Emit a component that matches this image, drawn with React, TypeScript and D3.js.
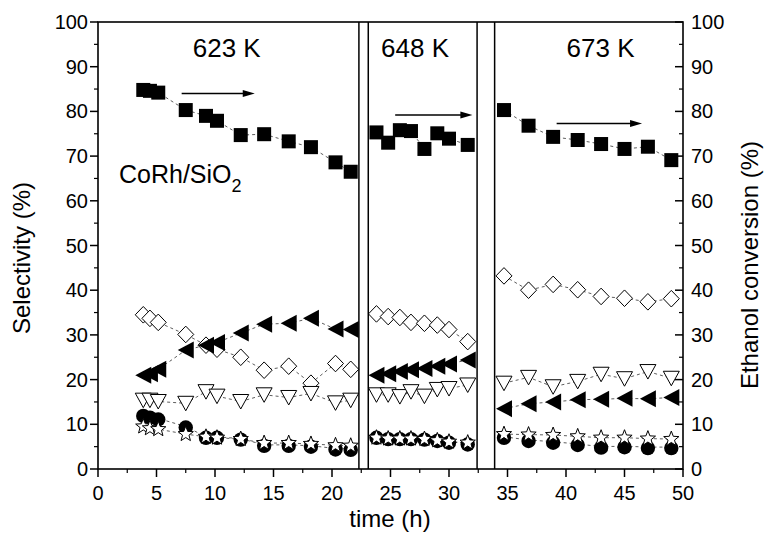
import React from 'react';
import * as d3 from 'd3';

// ---- data ----
const t623 = [3.87, 4.44, 5.15, 7.5, 9.23, 10.17, 12.2, 14.2, 16.3, 18.2, 20.3, 21.6];
const t648 = [23.8, 24.8, 25.8, 26.75, 27.9, 29.0, 30.0, 31.6];
const t673 = [34.7, 36.8, 38.9, 41.0, 43.0, 45.0, 47.0, 49.0];

// ethanol conversion (filled squares, right axis)
const conv623 = [84.8, 84.6, 84.2, 80.3, 79.0, 77.9, 74.7, 74.9, 73.3, 72.0, 68.6, 66.5];
const conv648 = [75.3, 73.0, 75.8, 75.6, 71.6, 75.1, 73.9, 72.5];
const conv673 = [80.3, 76.8, 74.3, 73.6, 72.7, 71.6, 72.1, 69.1];

// open diamonds
const dia623 = [34.5, 33.7, 32.8, 30.1, 27.7, 26.8, 25.0, 22.1, 23.0, 19.2, 23.6, 22.3];
const dia648 = [34.7, 34.1, 33.9, 32.8, 32.6, 32.2, 31.2, 28.5];
const dia673 = [43.2, 40.0, 41.3, 40.1, 38.6, 38.2, 37.4, 38.1];

// filled left triangles
const ltri623 = [21.0, 21.3, 22.3, 26.6, 27.7, 28.3, 30.4, 32.4, 32.6, 33.7, 31.3, 31.2];
const ltri648 = [21.0, 21.3, 21.8, 22.2, 22.5, 23.0, 23.5, 24.4];
const ltri673 = [13.5, 14.6, 15.0, 15.5, 15.6, 15.8, 15.7, 16.0];

// open down triangles
const dtri623 = [15.4, 15.4, 15.1, 14.7, 17.3, 16.3, 15.1, 16.6, 16.0, 16.9, 14.8, 15.4];
const dtri648 = [16.6, 16.6, 16.2, 17.3, 16.3, 17.8, 18.0, 18.8];
const dtri673 = [19.2, 20.5, 18.4, 19.6, 21.2, 20.2, 21.8, 20.3];

// filled circles
const circ623 = [12.1, 11.7, 11.3, 9.5, 7.2, 7.2, 6.8, 5.4, 5.4, 5.2, 4.6, 4.5];
const circ648 = [7.2, 6.9, 6.9, 6.9, 6.8, 6.5, 6.1, 5.7];
const circ673 = [7.2, 6.5, 6.1, 5.6, 5.0, 5.1, 4.9, 4.9];

// open stars
const star623 = [9.5, 9.1, 8.9, 7.8, 7.2, 7.0, 6.7, 5.8, 5.8, 5.6, 5.3, 5.2];
const star648 = [7.0, 6.8, 6.8, 6.8, 6.7, 6.4, 6.1, 5.9];
const star673 = [7.8, 7.7, 7.6, 7.3, 7.0, 7.0, 6.8, 6.7];

const xTicks = [0, 5, 10, 15, 20, 25, 30, 35, 40, 45, 50];
const yTicks = [0, 10, 20, 30, 40, 50, 60, 70, 80, 90, 100];
const dividers = [22.3, 23.1, 32.4, 33.9];
const tempLabels = ['623 K', '648 K', '673 K'];
const tempLabelX = [11.0, 27.1, 42.95];
const arrowStart = [7.15, 25.4, 39.2];
const arrowEnd = [13.4, 32.0, 46.5];
const arrowY = [84.0, 79.2, 77.3];

const times = [t623, t648, t673];
const series = [
  { shape: 'square', segs: [conv623, conv648, conv673] },
  { shape: 'diamond', segs: [dia623, dia648, dia673] },
  { shape: 'dtri', segs: [dtri623, dtri648, dtri673] },
  { shape: 'ltri', segs: [ltri623, ltri648, ltri673] },
  { shape: 'circle', segs: [circ623, circ648, circ673] },
  { shape: 'star', segs: [star623, star648, star673] },
];

const W = 766;
const H = 538;
const L = 98, R = 683, T = 22, B = 469;
const FONT = '"Liberation Sans", Arial, Helvetica, sans-serif';

function marker(shape: string, cx: number, cy: number, key: string) {
  switch (shape) {
    case 'square':
      return <rect key={key} x={cx - 7} y={cy - 7} width={14} height={14} fill="#000" />;
    case 'diamond':
      return (
        <path key={key} d={`M${cx},${cy - 8.3}L${cx + 8},${cy}L${cx},${cy + 8.3}L${cx - 8},${cy}Z`}
          fill="#fff" stroke="#000" strokeWidth={1} />
      );
    case 'ltri':
      return (
        <path key={key} d={`M${cx - 8},${cy}L${cx + 8},${cy - 8.5}L${cx + 8},${cy + 8.5}Z`} fill="#000" />
      );
    case 'dtri':
      return (
        <path key={key} d={`M${cx - 8},${cy - 7}L${cx + 8},${cy - 7}L${cx},${cy + 7.5}Z`}
          fill="#fff" stroke="#000" strokeWidth={1} />
      );
    case 'circle':
      return <circle key={key} cx={cx} cy={cy + 1} r={7.2} fill="#000" />;
    case 'star': {
      const pts: string[] = [];
      for (let i = 0; i < 10; i++) {
        const r = i % 2 === 0 ? 8 : 3.4;
        const a = -Math.PI / 2 + (i * Math.PI) / 5;
        pts.push(`${cx + r * Math.cos(a)},${cy + r * Math.sin(a)}`);
      }
      return <path key={key} d={`M${pts.join('L')}Z`} fill="#fff" stroke="#000" strokeWidth={1} />;
    }
  }
  return null;
}

export default function App() {
  const x = d3.scaleLinear().domain([0, 50]).range([L, R]);
  const y = d3.scaleLinear().domain([0, 100]).range([B, T]);
  const line = d3.line<[number, number]>().x((d) => x(d[0])).y((d) => y(d[1]));

  const xMinor = d3.range(2.5, 50, 5);
  const yMinor = d3.range(5, 100, 10);

  return (
    <svg width={W} height={H} style={{ position: 'absolute', left: 0, top: 0, background: '#fff' }}
      fontFamily={FONT}>
      <rect x={0} y={0} width={W} height={H} fill="#fff" />
      {/* dashed connectors */}
      {series.map((s, si) =>
        s.segs.map((vals, gi) => (
          <path key={`l${si}-${gi}`} d={line(vals.map((v, i) => [times[gi][i], v]) as [number, number][]) || ''}
            fill="none" stroke="#333" strokeWidth={0.8} strokeDasharray="3,3" />
        ))
      )}
      {/* markers */}
      {series.map((s, si) =>
        s.segs.map((vals, gi) =>
          vals.map((v, i) => marker(s.shape, x(times[gi][i]), y(v), `m${si}-${gi}-${i}`))
        )
      )}
      {/* dividers */}
      {dividers.map((d, i) => (
        <line key={`dv${i}`} x1={x(d)} x2={x(d)} y1={T} y2={B} stroke="#000" strokeWidth={1.5} />
      ))}
      {/* frame */}
      <rect x={L} y={T} width={R - L} height={B - T} fill="none" stroke="#000" strokeWidth={1.6} />
      {/* bottom ticks */}
      {xTicks.map((t) => (
        <g key={`xt${t}`}>
          <line x1={x(t)} x2={x(t)} y1={B} y2={B + 8} stroke="#000" strokeWidth={1.5} />
          <text x={x(t)} y={500} fontSize={20} textAnchor="middle">{t}</text>
        </g>
      ))}
      {xMinor.map((t) => (
        <line key={`xm${t}`} x1={x(t)} x2={x(t)} y1={B} y2={B + 4} stroke="#000" strokeWidth={1.2} />
      ))}
      {/* left ticks */}
      {yTicks.map((t) => (
        <g key={`yl${t}`}>
          <line x1={L - 8} x2={L} y1={y(t)} y2={y(t)} stroke="#000" strokeWidth={1.5} />
          <text x={88} y={y(t) + 7} fontSize={20} textAnchor="end">{t}</text>
        </g>
      ))}
      {yMinor.map((t) => (
        <line key={`ylm${t}`} x1={L - 4} x2={L} y1={y(t)} y2={y(t)} stroke="#000" strokeWidth={1.2} />
      ))}
      {/* right ticks (inward) */}
      {yTicks.map((t) => (
        <g key={`yr${t}`}>
          <line x1={R - 8} x2={R} y1={y(t)} y2={y(t)} stroke="#000" strokeWidth={1.5} />
          <text x={691} y={y(t) + 7} fontSize={20} textAnchor="start">{t}</text>
        </g>
      ))}
      {yMinor.map((t) => (
        <line key={`yrm${t}`} x1={R - 4} x2={R} y1={y(t)} y2={y(t)} stroke="#000" strokeWidth={1.2} />
      ))}
      {/* arrows */}
      {arrowStart.map((a, i) => {
        const x0 = x(a), x1 = x(arrowEnd[i]), yy = y(arrowY[i]);
        return (
          <g key={`ar${i}`}>
            <line x1={x0} x2={x1 - 8} y1={yy} y2={yy} stroke="#000" strokeWidth={1.5} />
            <path d={`M${x1},${yy}L${x1 - 12},${yy - 3.5}L${x1 - 12},${yy + 3.5}Z`} fill="#000" />
          </g>
        );
      })}
      {/* temperature labels */}
      {tempLabels.map((s, i) => (
        <text key={`tl${i}`} x={x(tempLabelX[i])} y={57} fontSize={26} textAnchor="middle">{s}</text>
      ))}
      <text x={119} y={183} fontSize={25}>
        CoRh/SiO<tspan fontSize={18} dy={9}>2</tspan>
      </text>
      {/* axis titles */}
      <text x={390} y={527} fontSize={24} textAnchor="middle">time (h)</text>
      <text transform={`translate(30,258) rotate(-90)`} fontSize={24} textAnchor="middle">Selectivity (%)</text>
      <text transform={`translate(758,265) rotate(-90)`} fontSize={24} textAnchor="middle">Ethanol conversion (%)</text>
    </svg>
  );
}
